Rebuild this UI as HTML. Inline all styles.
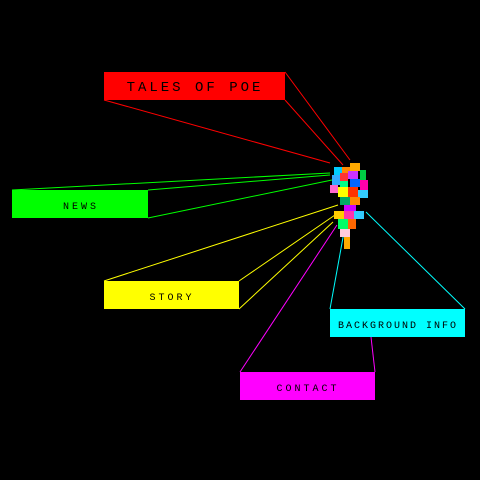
<!DOCTYPE html>
<html><head><meta charset="utf-8"><style>
html,body{margin:0;padding:0;background:#000;width:480px;height:480px;overflow:hidden}
svg{display:block}
text{font-family:"Liberation Mono",monospace;letter-spacing:3px}
</style></head><body>
<svg width="480" height="480" viewBox="0 0 480 480">
<rect width="480" height="480" fill="#000"/>
<g stroke-width="1" fill="none">
<line x1="104" y1="100" x2="330" y2="163" stroke="#f00"/>
<line x1="285" y1="72" x2="350" y2="160" stroke="#f00"/>
<line x1="285" y1="100" x2="343" y2="165" stroke="#f00"/>
<line x1="12" y1="190" x2="330" y2="173" stroke="#0f0"/>
<line x1="148" y1="190" x2="330" y2="175" stroke="#0f0"/>
<line x1="148" y1="218" x2="332" y2="180" stroke="#0f0"/>
<line x1="104" y1="281" x2="338" y2="205" stroke="#ff0"/>
<line x1="239" y1="281" x2="335" y2="215" stroke="#ff0"/>
<line x1="239" y1="309" x2="333" y2="222" stroke="#ff0"/>
<line x1="330" y1="309" x2="344" y2="232" stroke="#0ff"/>
<line x1="465" y1="309" x2="366" y2="212" stroke="#0ff"/>
<line x1="240" y1="372" x2="337" y2="225" stroke="#f0f"/>
<line x1="375" y1="372" x2="371" y2="337" stroke="#f0f"/>
</g>
<g>
<rect x="334" y="167" width="8" height="8" fill="#0cf"/><rect x="342" y="167" width="8" height="6" fill="#f80"/>
<rect x="350" y="163" width="10" height="8" fill="#fa0"/><rect x="360" y="170" width="6" height="10" fill="#0c4"/>
<rect x="332" y="175" width="8" height="10" fill="#3af"/><rect x="340" y="173" width="8" height="8" fill="#f33"/>
<rect x="348" y="171" width="10" height="8" fill="#c3f"/><rect x="340" y="181" width="8" height="6" fill="#0f8"/>
<rect x="350" y="179" width="10" height="8" fill="#06f"/><rect x="360" y="180" width="8" height="10" fill="#f0a"/>
<rect x="330" y="185" width="8" height="8" fill="#f6c"/><rect x="338" y="187" width="10" height="10" fill="#ff0"/>
<rect x="348" y="187" width="10" height="10" fill="#f30"/><rect x="358" y="190" width="10" height="8" fill="#3cf"/>
<rect x="340" y="197" width="10" height="8" fill="#0a6"/><rect x="350" y="197" width="10" height="8" fill="#f80"/>
<rect x="344" y="205" width="12" height="6" fill="#c0f"/>
<rect x="334" y="211" width="10" height="8" fill="#fc0"/><rect x="344" y="211" width="10" height="8" fill="#f3a"/>
<rect x="354" y="211" width="10" height="8" fill="#3cf"/><rect x="338" y="219" width="10" height="10" fill="#0f6"/>
<rect x="348" y="219" width="8" height="10" fill="#f60"/><rect x="340" y="229" width="10" height="8" fill="#fcd"/>
<rect x="344" y="237" width="6" height="12" fill="#fa0"/>
</g>
<g>
<rect x="104" y="72" width="181" height="28" fill="#f00"/>
<text x="195" y="91" font-size="14" text-anchor="middle" fill="#000">TALES OF POE</text>
</g>
<g>
<rect x="12" y="190" width="136" height="28" fill="#0f0"/>
<text x="81" y="209" font-size="10" text-anchor="middle" fill="#000">NEWS</text>
</g>
<g>
<rect x="104" y="281" width="135" height="28" fill="#ff0"/>
<text x="172" y="300" font-size="10" text-anchor="middle" fill="#000">STORY</text>
</g>
<g>
<rect x="330" y="309" width="135" height="28" fill="#0ff"/>
<text x="398" y="328" font-size="10" text-anchor="middle" fill="#000" style="letter-spacing:2px">BACKGROUND INFO</text>
</g>
<g>
<rect x="240" y="372" width="135" height="28" fill="#f0f"/>
<text x="308" y="391" font-size="10" text-anchor="middle" fill="#000">CONTACT</text>
</g>
</svg>
</body></html>
